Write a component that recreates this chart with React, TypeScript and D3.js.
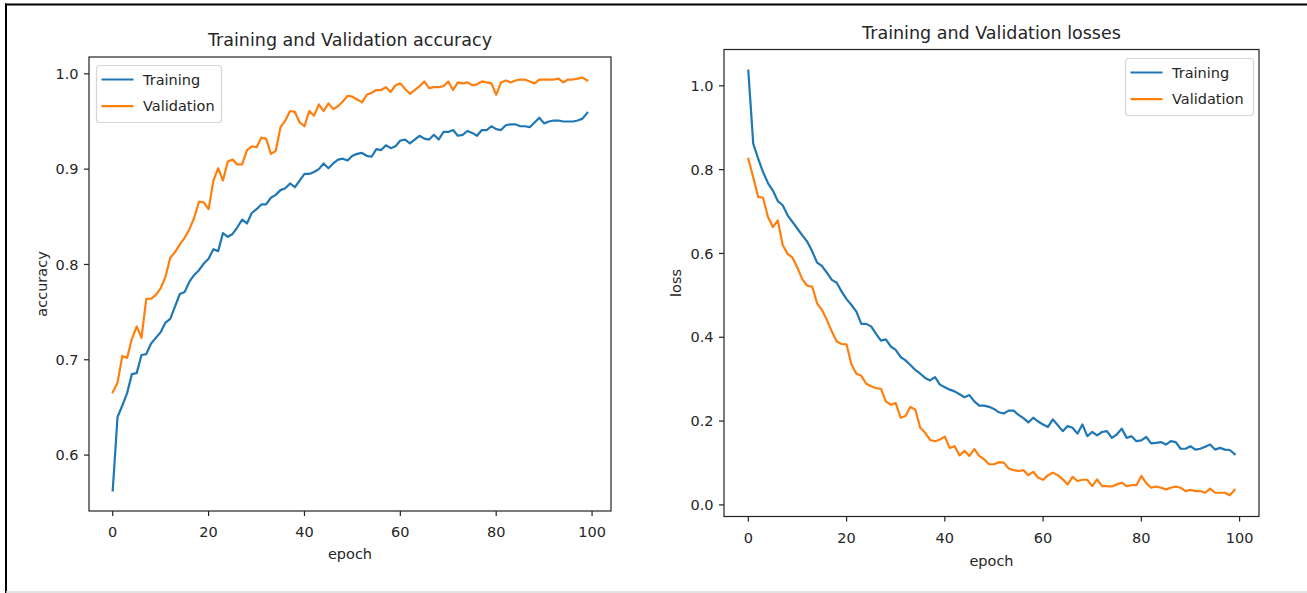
import React from "react";
import * as d3 from "d3";

const epochs: number[] = d3.range(100);

const trainAcc: number[] = [
  0.563, 0.640, 0.652, 0.665, 0.685, 0.686, 0.705, 0.706, 0.717, 0.723,
  0.729, 0.739, 0.743, 0.756, 0.769, 0.771, 0.782, 0.789, 0.794, 0.801,
  0.806, 0.816, 0.814, 0.833, 0.829, 0.832, 0.839, 0.847, 0.843, 0.854,
  0.858, 0.863, 0.863, 0.870, 0.873, 0.878, 0.880, 0.885, 0.881, 0.888,
  0.895, 0.895, 0.897, 0.900, 0.906, 0.901, 0.906, 0.910, 0.911, 0.909,
  0.914, 0.916, 0.917, 0.914, 0.913, 0.921, 0.920, 0.925, 0.922, 0.924,
  0.930, 0.931, 0.927, 0.931, 0.935, 0.932, 0.931, 0.936, 0.931, 0.939,
  0.939, 0.941, 0.935, 0.936, 0.940, 0.938, 0.935, 0.941, 0.941, 0.945,
  0.942, 0.941, 0.946, 0.947, 0.947, 0.945, 0.945, 0.944, 0.949, 0.954,
  0.948, 0.950, 0.951, 0.951, 0.950, 0.950, 0.950, 0.951, 0.953, 0.959,
];

const valAcc: number[] = [
  0.666, 0.676, 0.704, 0.702, 0.722, 0.735, 0.723, 0.764, 0.764, 0.768,
  0.775, 0.787, 0.807, 0.813, 0.821, 0.828, 0.837, 0.849, 0.866, 0.865,
  0.858, 0.888, 0.901, 0.888, 0.908, 0.910, 0.905, 0.905, 0.920, 0.924,
  0.923, 0.933, 0.932, 0.916, 0.919, 0.944, 0.951, 0.961, 0.960, 0.949,
  0.945, 0.961, 0.956, 0.968, 0.961, 0.969, 0.963, 0.966, 0.971, 0.977,
  0.976, 0.973, 0.970, 0.978, 0.980, 0.983, 0.983, 0.986, 0.981, 0.988,
  0.990, 0.984, 0.979, 0.983, 0.987, 0.992, 0.985, 0.986, 0.986, 0.987,
  0.992, 0.983, 0.991, 0.990, 0.991, 0.988, 0.989, 0.992, 0.991, 0.990,
  0.978, 0.991, 0.993, 0.991, 0.993, 0.994, 0.994, 0.992, 0.990, 0.994,
  0.994, 0.994, 0.994, 0.995, 0.991, 0.994, 0.994, 0.995, 0.996, 0.993,
];

const trainLoss: number[] = [
  1.036, 0.862, 0.826, 0.794, 0.768, 0.750, 0.725, 0.715, 0.691, 0.675,
  0.659, 0.643, 0.628, 0.605, 0.578, 0.570, 0.554, 0.537, 0.530, 0.509,
  0.491, 0.477, 0.461, 0.432, 0.432, 0.426, 0.408, 0.392, 0.395, 0.378,
  0.370, 0.353, 0.345, 0.334, 0.322, 0.313, 0.303, 0.297, 0.305, 0.287,
  0.281, 0.275, 0.271, 0.264, 0.257, 0.262, 0.247, 0.237, 0.237, 0.234,
  0.229, 0.221, 0.218, 0.225, 0.225, 0.215, 0.207, 0.197, 0.208, 0.199,
  0.192, 0.186, 0.204, 0.190, 0.176, 0.188, 0.184, 0.170, 0.192, 0.164,
  0.174, 0.166, 0.174, 0.176, 0.160, 0.168, 0.182, 0.160, 0.164, 0.152,
  0.154, 0.162, 0.147, 0.148, 0.150, 0.144, 0.152, 0.150, 0.134, 0.134,
  0.140, 0.132, 0.134, 0.139, 0.144, 0.132, 0.136, 0.132, 0.131, 0.121,
];

const valLoss: number[] = [
  0.826, 0.782, 0.735, 0.733, 0.687, 0.663, 0.679, 0.620, 0.599, 0.590,
  0.566, 0.538, 0.523, 0.521, 0.481, 0.465, 0.441, 0.414, 0.390, 0.384,
  0.383, 0.335, 0.313, 0.308, 0.289, 0.283, 0.279, 0.277, 0.247, 0.239,
  0.243, 0.208, 0.212, 0.234, 0.227, 0.184, 0.172, 0.155, 0.152, 0.156,
  0.163, 0.136, 0.140, 0.118, 0.129, 0.117, 0.133, 0.117, 0.109, 0.097,
  0.097, 0.102, 0.101, 0.087, 0.083, 0.081, 0.083, 0.071, 0.079, 0.065,
  0.060, 0.071, 0.077, 0.071, 0.061, 0.049, 0.067, 0.057, 0.060, 0.060,
  0.045, 0.061, 0.045, 0.045, 0.044, 0.049, 0.053, 0.045, 0.047, 0.047,
  0.069, 0.052, 0.041, 0.044, 0.041, 0.037, 0.041, 0.044, 0.041, 0.033,
  0.036, 0.033, 0.033, 0.029, 0.039, 0.029, 0.029, 0.029, 0.023, 0.036,
];

const xTicks: number[] = [0, 20, 40, 60, 80, 100];
const accTicks: number[] = [0.6, 0.7, 0.8, 0.9, 1.0];
const lossTicks: number[] = [0.0, 0.2, 0.4, 0.6, 0.8, 1.0];
const seriesNames: string[] = ["Training", "Validation"];
const seriesColors: string[] = ["#1f77b4", "#ff7f0e"];

const FONT = "'DejaVu Sans', sans-serif";
const TXT = "#262626";

function padDomain(vals: number[]): [number, number] {
  const [lo, hi] = d3.extent(vals) as [number, number];
  const m = (hi - lo) * 0.05;
  return [lo - m, hi + m];
}

type PanelProps = {
  left: number; right: number; top: number; bottom: number;
  title: string; yLabel: string; yTicks: number[];
  train: number[]; val: number[];
  legendX: number; legendY: number; legendW: number;
  titleY: number; xTickY: number; xLabelY: number; yLabelX: number;
};

function Panel(p: PanelProps) {
  const x = d3.scaleLinear().domain(padDomain(epochs)).range([p.left, p.right]);
  const y = d3.scaleLinear().domain(padDomain([...p.train, ...p.val])).range([p.bottom, p.top]);
  const line = d3.line<number>().x((_, i) => x(epochs[i])).y((d) => y(d));
  const fmt = d3.format(".1f");
  const fs = 14.5;
  return (
    <g>
      {[p.train, p.val].map((s, k) => (
        <path key={k} d={line(s) || ""} fill="none" stroke={seriesColors[k]} strokeWidth={2.2} strokeLinejoin="round" strokeLinecap="square" />
      ))}
      <rect x={p.left} y={p.top} width={p.right - p.left} height={p.bottom - p.top} fill="none" stroke="#222" strokeWidth={1.2} />
      {xTicks.map((t) => (
        <g key={t}>
          <line x1={x(t)} x2={x(t)} y1={p.bottom} y2={p.bottom + 5} stroke="#222" strokeWidth={1.2} />
          <text x={x(t)} y={p.xTickY} textAnchor="middle" fontSize={fs} fontFamily={FONT} fill={TXT}>{t}</text>
        </g>
      ))}
      {p.yTicks.map((t) => (
        <g key={t}>
          <line x1={p.left - 5} x2={p.left} y1={y(t)} y2={y(t)} stroke="#222" strokeWidth={1.2} />
          <text x={p.left - 10.5} y={y(t)} dy="0.36em" textAnchor="end" fontSize={fs} fontFamily={FONT} fill={TXT}>{fmt(t)}</text>
        </g>
      ))}
      <text x={(p.left + p.right) / 2} y={p.titleY} textAnchor="middle" fontSize={17.5} fontFamily={FONT} fill={TXT}>{p.title}</text>
      <text x={(p.left + p.right) / 2} y={p.xLabelY} textAnchor="middle" fontSize={fs} fontFamily={FONT} fill={TXT}>epoch</text>
      <text transform={`translate(${p.yLabelX},${(p.top + p.bottom) / 2}) rotate(-90)`} textAnchor="middle" fontSize={fs} fontFamily={FONT} fill={TXT}>{p.yLabel}</text>
      <g>
        <rect x={p.legendX} y={p.legendY} width={p.legendW} height={57} rx={3} fill="#fff" fillOpacity={0.8} stroke="#d6d6d6" strokeWidth={1.2} />
        {seriesNames.map((n, k) => (
          <g key={n}>
            <line x1={p.legendX + 5} x2={p.legendX + 37} y1={p.legendY + 14 + k * 26.7} y2={p.legendY + 14 + k * 26.7} stroke={seriesColors[k]} strokeWidth={2.2} />
            <text x={p.legendX + 46.5} y={p.legendY + 14 + k * 26.7} dy="0.36em" fontSize={fs} fontFamily={FONT} fill={TXT}>{n}</text>
          </g>
        ))}
      </g>
    </g>
  );
}

export default function App() {
  return (
    <svg width={1307} height={593} style={{ position: "absolute", left: 0, top: 0, background: "#fff" }}>
      <rect x={0} y={0} width={1307} height={593} fill="#fff" />
      <line x1={5} x2={1307} y1={4.5} y2={4.5} stroke="#000" strokeWidth={2} />
      <line x1={6} x2={6} y1={3.5} y2={593} stroke="#000" strokeWidth={2} />
      <line x1={6} x2={1307} y1={592} y2={592} stroke="#d9d9d9" strokeWidth={1.5} />
      <Panel left={89} right={611} top={57} bottom={511} title="Training and Validation accuracy" yLabel="accuracy"
        yTicks={accTicks} train={trainAcc} val={valAcc}
        legendX={96.5} legendY={65.5} legendW={125}
        titleY={46} xTickY={537} xLabelY={559} yLabelX={47} />
      <Panel left={724} right={1259} top={49.5} bottom={516.5} title="Training and Validation losses" yLabel="loss"
        yTicks={lossTicks} train={trainLoss} val={valLoss}
        legendX={1125.5} legendY={58.5} legendW={128}
        titleY={38.5} xTickY={542.5} xLabelY={566} yLabelX={681} />
    </svg>
  );
}
